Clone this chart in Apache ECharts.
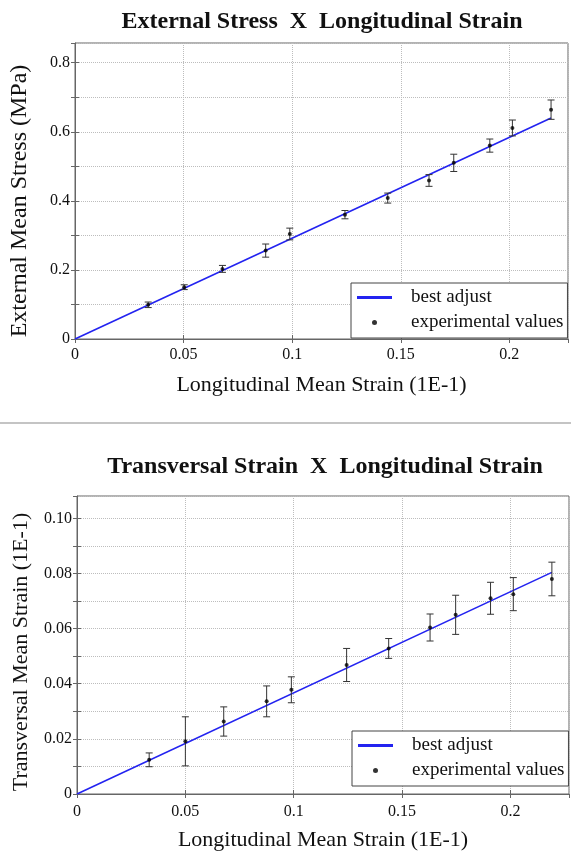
<!DOCTYPE html>
<html>
<head>
<meta charset="utf-8">
<script src="https://cdn.jsdelivr.net/npm/echarts@6/dist/echarts.min.js"></script>
<style>
html,body{margin:0;padding:0;background:#fff;}
#chart{width:571px;height:854px;}
</style>
</head>
<body>
<div id="chart"></div>
<script>
// ---- data ----
const xTickLabels = ['0', '0.05', '0.1', '0.15', '0.2'];
const stressTickLabels = ['0', '0.2', '0.4', '0.6', '0.8'];
const transTickLabels = ['0', '0.02', '0.04', '0.06', '0.08', '0.10'];

// External stress vs longitudinal strain
const stressStrain = [0.0337, 0.0503, 0.0679, 0.0878, 0.0989, 0.1243, 0.1440, 0.1630, 0.1744, 0.1910, 0.2014, 0.2192];
const stressValues = [0.099, 0.150, 0.203, 0.256, 0.304, 0.360, 0.408, 0.459, 0.510, 0.560, 0.611, 0.664];
const stressErrors = [0.008, 0.007, 0.010, 0.019, 0.017, 0.012, 0.0145, 0.017, 0.025, 0.019, 0.023, 0.028];
const stressFitX = [0, 0.2192];
const stressFitY = [0, 0.640];

// Transversal strain vs longitudinal strain
const transStrain = [0.0333, 0.0500, 0.0677, 0.0875, 0.0989, 0.1244, 0.1438, 0.1629, 0.1747, 0.1908, 0.2013, 0.2191];
const transValues = [0.0124, 0.0191, 0.0263, 0.0336, 0.0378, 0.0468, 0.0528, 0.0604, 0.0650, 0.0710, 0.0725, 0.0780];
const transErrors = [0.0025, 0.0089, 0.0053, 0.0056, 0.0047, 0.0060, 0.0036, 0.0049, 0.0071, 0.0058, 0.0060, 0.0061];
const transFitX = [0, 0.2191];
const transFitY = [0, 0.0804];

const seriesNames = ['best adjust', 'experimental values'];
const titles = ['External Stress  X  Longitudinal Strain', 'Transversal Strain  X  Longitudinal Strain'];
const xName = 'Longitudinal Mean Strain (1E-1)';
const yNames = ['External Mean Stress (MPa)', 'Transversal Mean Strain (1E-1)'];

// ---- styling ----
const SERIF = '"Liberation Serif", "Times New Roman", serif';
const FRAME = '#666';
const GRIDC = '#bdbdbd';
const BLUE = '#2323f0';

function labelFrom(list) {
  return function (v) {
    for (const l of list) { if (Math.abs(parseFloat(l) - v) < 1e-9) return l; }
    return '';
  };
}

function pairs(xs, ys) { return xs.map((x, i) => [x, ys[i]]); }
function triples(xs, ys, es) { return xs.map((x, i) => [x, ys[i], es[i]]); }

function errRender(params, api) {
  const x = api.value(0), y = api.value(1), e = api.value(2);
  const t = api.coord([x, y + e]);
  const b = api.coord([x, y - e]);
  const hw = 3.5;
  const st = { stroke: '#333', lineWidth: 1 };
  return {
    type: 'group',
    children: [
      { type: 'line', shape: { x1: t[0], y1: t[1], x2: b[0], y2: b[1] }, style: st },
      { type: 'line', shape: { x1: t[0] - hw, y1: t[1], x2: t[0] + hw, y2: t[1] }, style: st },
      { type: 'line', shape: { x1: b[0] - hw, y1: b[1], x2: b[0] + hw, y2: b[1] }, style: st }
    ]
  };
}

function mainX(gi, labelMargin) {
  return {
    type: 'value', gridIndex: gi, position: 'bottom', min: 0, max: 0.227, interval: 0.05,
    name: xName, nameLocation: 'middle', nameGap: 35,
    nameTextStyle: { fontFamily: SERIF, fontSize: 22, color: '#111' },
    axisLine: { show: true, onZero: false, lineStyle: { color: FRAME } },
    axisTick: { show: true, inside: true, length: 4, lineStyle: { color: FRAME } },
    axisLabel: { fontFamily: SERIF, fontSize: 16, color: '#111', margin: labelMargin, showMaxLabel: false, formatter: labelFrom(xTickLabels) },
    splitLine: { show: true, interval: 0, lineStyle: { color: GRIDC, type: 'dotted' } }
  };
}
function topX(gi) {
  return {
    type: 'value', gridIndex: gi, position: 'top', min: 0, max: 0.227, interval: 0.05,
    axisLine: { show: false }, axisLabel: { show: false }, splitLine: { show: false },
    axisTick: { show: true, inside: true, length: 4, lineStyle: { color: FRAME } }
  };
}
function mainY(gi, max, interval, labels, name, gap, fs, shift) {
  return {
    type: 'value', gridIndex: gi, position: 'left', min: 0, max: max, interval: interval,
    name: name, nameLocation: 'middle', nameGap: gap,
    nameTextStyle: { fontFamily: SERIF, fontSize: fs, color: '#111', padding: [0, shift, 0, 0] },
    axisLine: { show: true, onZero: false, lineStyle: { color: FRAME } },
    axisTick: { show: true, inside: true, length: 4, lineStyle: { color: FRAME } },
    axisLabel: { fontFamily: SERIF, fontSize: 16, color: '#111', margin: 5, showMaxLabel: false, formatter: labelFrom(labels) },
    splitLine: { show: true, interval: 0, lineStyle: { color: GRIDC, type: 'dotted' } }
  };
}
function rightY(gi, max, interval) {
  return {
    type: 'value', gridIndex: gi, position: 'right', min: 0, max: max, interval: interval,
    axisLine: { show: false }, axisLabel: { show: false }, splitLine: { show: false },
    axisTick: { show: true, inside: true, length: 4, lineStyle: { color: FRAME } }
  };
}
function legendAt(left, top) {
  return {
    left: left, top: top, orient: 'vertical', selectedMode: false,
    data: [
      { name: seriesNames[0], icon: 'path://M0 0H100V8H0Z' },
      { name: seriesNames[1], icon: 'circle' }
    ],
    itemWidth: 35, itemHeight: 5, itemGap: 6,
    padding: [5, 4, 6, 6],
    borderColor: '#444', borderWidth: 1, backgroundColor: '#fff',
    textStyle: { fontFamily: SERIF, fontSize: 19, color: '#111', lineHeight: 19, padding: [0, 0, 0, 14] }
  };
}

const option = {
  animation: false,
  backgroundColor: '#fff',
  title: [
    { text: titles[0], left: 322, top: 10, textAlign: 'center', padding: 0,
      textStyle: { fontFamily: SERIF, fontWeight: 'bold', fontSize: 24, color: '#111' } },
    { text: titles[1], left: 325, top: 455, textAlign: 'center', padding: 0,
      textStyle: { fontFamily: SERIF, fontWeight: 'bold', fontSize: 24, color: '#111' } }
  ],
  graphic: [
    { type: 'line', shape: { x1: 0, y1: 423, x2: 571, y2: 423 }, style: { stroke: '#c4c4c4', lineWidth: 2 } }
  ],
  grid: [
    { left: 75, right: 3, top: 43, bottom: 515, show: true, borderColor: FRAME, borderWidth: 1, containLabel: false },
    { left: 77, right: 2, top: 496, bottom: 60, show: true, borderColor: FRAME, borderWidth: 1, containLabel: false }
  ],
  xAxis: [mainX(0, 8), topX(0), mainX(1, 10), topX(1)],
  yAxis: [
    mainY(0, 0.857, 0.1, stressTickLabels, yNames[0], 43, 24, 20), rightY(0, 0.857, 0.1),
    mainY(1, 0.1081, 0.01, transTickLabels, yNames[1], 45, 22, 14), rightY(1, 0.1081, 0.01)
  ],
  legend: [legendAt(351, 283), legendAt(352, 731)],
  series: [
    { name: seriesNames[0], type: 'line', xAxisIndex: 0, yAxisIndex: 0, data: pairs(stressFitX, stressFitY),
      symbol: 'none', lineStyle: { color: BLUE, width: 1.6 }, itemStyle: { color: BLUE }, z: 3 },
    { name: 'stress-errors', type: 'custom', xAxisIndex: 0, yAxisIndex: 0, renderItem: errRender,
      encode: { x: 0, y: 1 }, data: triples(stressStrain, stressValues, stressErrors), z: 4 },
    { name: seriesNames[1], type: 'scatter', xAxisIndex: 0, yAxisIndex: 0, data: pairs(stressStrain, stressValues),
      symbol: 'circle', symbolSize: 4, itemStyle: { color: '#000' }, z: 5 },

    { name: seriesNames[0], type: 'line', xAxisIndex: 2, yAxisIndex: 2, data: pairs(transFitX, transFitY),
      symbol: 'none', lineStyle: { color: BLUE, width: 1.6 }, itemStyle: { color: BLUE }, z: 3 },
    { name: 'trans-errors', type: 'custom', xAxisIndex: 2, yAxisIndex: 2, renderItem: errRender,
      encode: { x: 0, y: 1 }, data: triples(transStrain, transValues, transErrors), z: 4 },
    { name: seriesNames[1], type: 'scatter', xAxisIndex: 2, yAxisIndex: 2, data: pairs(transStrain, transValues),
      symbol: 'circle', symbolSize: 4, itemStyle: { color: '#000' }, z: 5 }
  ]
};

const chart = echarts.init(document.getElementById('chart'), null, { renderer: 'canvas' });
chart.setOption(option);
</script>
</body>
</html>
